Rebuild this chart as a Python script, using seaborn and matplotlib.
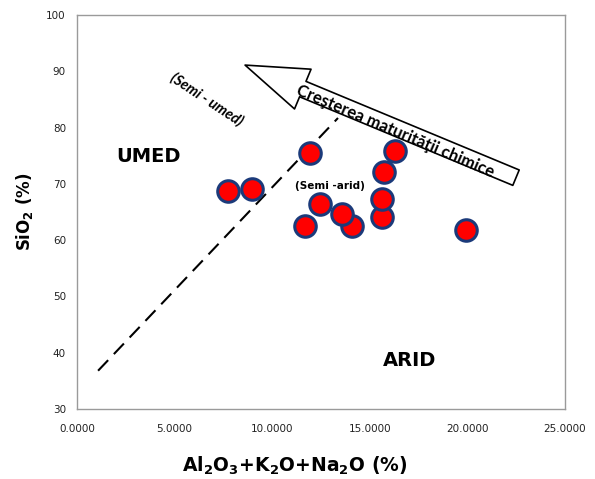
import numpy as np
import pandas as pd
import matplotlib
matplotlib.use("Agg")
import matplotlib.pyplot as plt
import seaborn as sns
from matplotlib.ticker import FormatStrFormatter

# ---- data ----
x_vals = [14.10, 15.60, 7.74, 8.97, 11.94, 16.30, 15.73, 12.45, 15.60, 13.58, 11.68, 19.93]
y_vals = [62.5, 64.1, 68.7, 69.1, 75.5, 75.8, 72.1, 66.4, 67.3, 64.7, 62.5, 61.8]
boundary_x = [1.08, 13.37]
boundary_y = [36.8, 81.7]
x_ticks = [0, 5, 10, 15, 20, 25]
y_ticks = [30, 40, 50, 60, 70, 80, 90, 100]

df = pd.DataFrame({"x": x_vals, "y": y_vals})

sns.set_theme(style="white")
plt.rcParams["font.family"] = ["DejaVu Sans"]
plt.rcParams["mathtext.fontset"] = "dejavusans"
plt.rcParams["text.color"] = "black"
plt.rcParams["axes.labelcolor"] = "black"

fig = plt.figure(figsize=(5.95, 4.79), dpi=100)
ax = fig.add_axes([77/595, 1-409/479, (565-77)/595, (409-15)/479])

ax.plot(boundary_x, boundary_y, color="black", lw=1.5, dashes=(7, 4), zorder=2)

sns.scatterplot(data=df, x="x", y="y", ax=ax, s=240, color="#FF0000",
                edgecolor="#1B3A7A", linewidth=2.2, zorder=3, legend=False)

ax.set_xlim(0, 25)
ax.set_ylim(30, 100)
ax.set_xticks(x_ticks)
ax.set_yticks(y_ticks)
ax.xaxis.set_major_formatter(FormatStrFormatter("%.4f"))
ax.yaxis.set_major_formatter(FormatStrFormatter("%d"))
ax.tick_params(axis="both", which="major", direction="out", length=5, width=1,
               color="#868686", labelsize=7.5, labelcolor="#222222", pad=3)
ax.tick_params(axis="x", pad=6)
for sp in ax.spines.values():
    sp.set_color("#9a9a9a")
    sp.set_linewidth(1.0)

ax.set_xlabel(r"Al$_\mathbf{2}$O$_\mathbf{3}$+K$_\mathbf{2}$O+Na$_\mathbf{2}$O (%)",
              fontsize=13.5, fontweight="bold")
ax.xaxis.set_label_coords(0.447, -0.117)
ax.set_ylabel(r"SiO$_\mathbf{2}$ (%)", fontsize=12, fontweight="bold", labelpad=8)

# region labels
ax.text(3.64, 74.8, "UMED", fontsize=14, fontweight="bold", ha="center", va="center")
ax.text(17.06, 38.7, "ARID", fontsize=14, fontweight="bold", ha="center", va="center")
ax.text(12.96, 69.6, "(Semi -arid)", fontsize=7.5, fontweight="bold", ha="center", va="center", zorder=4)
ax.text(6.66, 85.0, "(Semi - umed)", fontsize=10.5, fontweight="bold", style="italic",
        family=["Lato", "DejaVu Sans"], rotation=-33.5, ha="center", va="center",
        rotation_mode="anchor")

# arrow
ax.annotate("", xy=(8.61, 91.1), xytext=(22.49, 71.1),
            arrowprops=dict(arrowstyle="simple,head_length=45,head_width=31,tail_width=12",
                            mutation_scale=1, fc="white", ec="black", lw=1.2,
                            shrinkA=0, shrinkB=0), zorder=5)
ax.text(16.29, 79.4, "Creşterea maturităţii chimice", fontsize=12, fontweight="bold",
        family=["Lato", "DejaVu Sans"], rotation=-23, ha="center", va="center",
        rotation_mode="anchor", zorder=6)

fig.savefig("out.png", dpi=100)
